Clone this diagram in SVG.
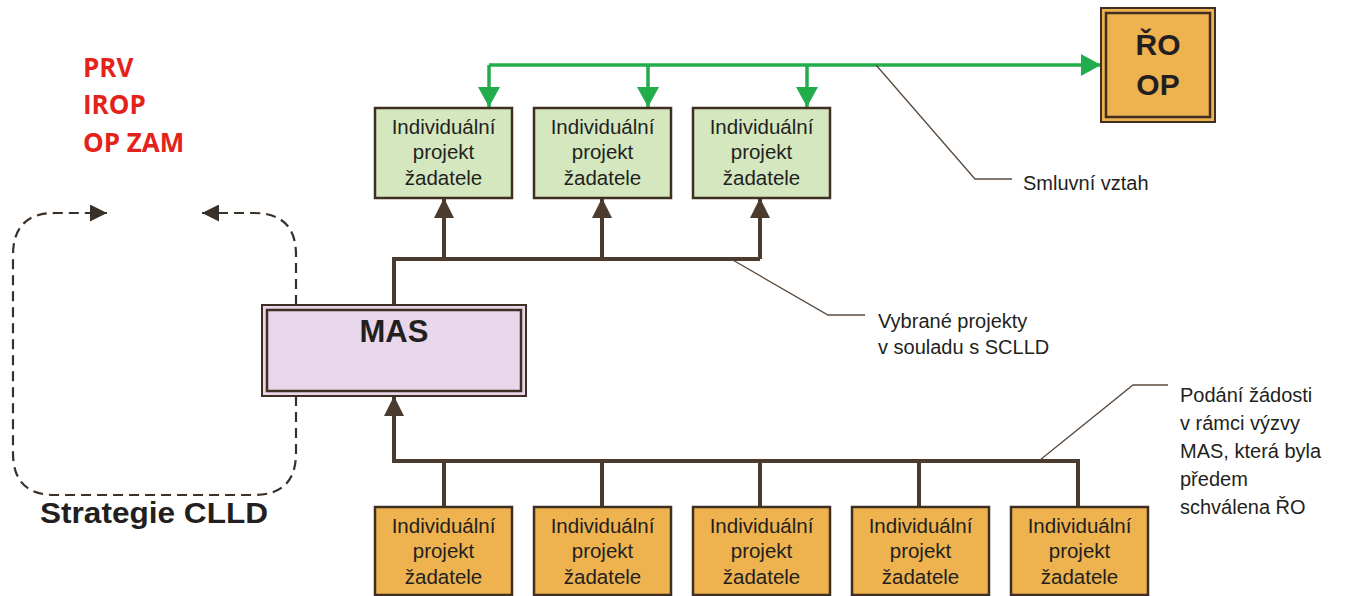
<svg xmlns="http://www.w3.org/2000/svg" width="1346" height="596" viewBox="0 0 1346 596">
<style>
.box text{font-family:"Liberation Sans",Arial,sans-serif;font-size:20.5px;fill:#231f20;text-anchor:middle}
.green rect{fill:#d4e7bf;stroke:#3f2e22;stroke-width:2.5}
.orange rect{fill:#eeb24f;stroke:#3f2e22;stroke-width:2.5}
.lbl{font-family:"Liberation Sans",Arial,sans-serif;font-size:20px;fill:#231f20}
.red{font-family:"Open Sans","Liberation Sans",sans-serif;font-weight:bold;font-size:26px;fill:#e3231b}
.brown{fill:none;stroke:#4b3a2e;stroke-width:4}
.gline{fill:none;stroke:#22ad4c;stroke-width:3.5}
.leader{fill:none;stroke:#5a4a3e;stroke-width:1.3}
.dash{fill:none;stroke:#3a3028;stroke-width:2.2;stroke-dasharray:10 6}
</style>
<defs>
<marker id="ab" viewBox="0 0 20 20" refX="20" refY="10" markerWidth="20" markerHeight="20" markerUnits="userSpaceOnUse" orient="auto"><path d="M0,0 L20,10 L0,20 Z" fill="#4b3a2e"/></marker>
<marker id="ag" viewBox="0 0 20 22" refX="20" refY="11" markerWidth="20" markerHeight="22" markerUnits="userSpaceOnUse" orient="auto"><path d="M0,0 L20,11 L0,22 Z" fill="#22ad4c"/></marker>
<marker id="ad" viewBox="0 0 17 17" refX="17" refY="8.5" markerWidth="17" markerHeight="17" markerUnits="userSpaceOnUse" orient="auto"><path d="M0,0 L17,8.5 L0,17 Z" fill="#3a3028"/></marker>
</defs>
<rect width="1346" height="596" fill="#ffffff"/>

<g id="connectors">
  <!-- green contract lines -->
  <path class="gline" d="M489,65 H1101" marker-end="url(#ag)"/>
  <path class="gline" d="M489,65 V107" marker-end="url(#ag)"/>
  <path class="gline" d="M648,65 V107" marker-end="url(#ag)"/>
  <path class="gline" d="M807,65 V107" marker-end="url(#ag)"/>
  <!-- MAS to selected projects -->
  <path class="brown" d="M394,305 V259 H760"/>
  <path class="brown" d="M444,259 V198" marker-end="url(#ab)"/>
  <path class="brown" d="M602,259 V198" marker-end="url(#ab)"/>
  <path class="brown" d="M760,259 V198" marker-end="url(#ab)"/>
  <!-- applications to MAS -->
  <path class="brown" d="M394,461 H1078 V507"/>
  <path class="brown" d="M444,461 V507"/>
  <path class="brown" d="M602,461 V507"/>
  <path class="brown" d="M760,461 V507"/>
  <path class="brown" d="M919,461 V507"/>
  <path class="brown" d="M394,463 V396" marker-end="url(#ab)"/>
  <!-- dashed strategy loop -->
  <path class="dash" d="M296,305 V255 Q296,213 254,213 H202" marker-end="url(#ad)"/>
  <path class="dash" d="M296,396 V453 Q296,495 254,495 H55 Q13,495 13,453 V255 Q13,213 55,213 H107" marker-end="url(#ad)"/>
  <!-- leader lines -->
  <path class="leader" d="M876,65 L975,179 H1012"/>
  <path class="leader" d="M731,259 L828,315 H865"/>
  <path class="leader" d="M1040,460 L1133,385 H1168"/>
</g>

<g id="labels">
  <text class="red" x="83" y="77">PRV</text>
  <text class="red" x="83" y="114">IROP</text>
  <text class="red" x="83" y="152">OP ZAM</text>
  <text x="40" y="523" font-family="Liberation Sans,Arial,sans-serif" font-weight="bold" font-size="29" fill="#231f20" textLength="228" lengthAdjust="spacingAndGlyphs">Strategie CLLD</text>
  <text class="lbl" x="1023" y="190">Smluvní vztah</text>
  <text class="lbl" x="878" y="328">Vybrané projekty</text>
  <text class="lbl" x="878" y="354">v souladu s SCLLD</text>
  <text class="lbl" x="1180" y="402">Podání žádosti</text>
  <text class="lbl" x="1180" y="430">v rámci výzvy</text>
  <text class="lbl" x="1180" y="458">MAS, která byla</text>
  <text class="lbl" x="1180" y="486">předem</text>
  <text class="lbl" x="1180" y="514">schválena ŘO</text>
</g>

<g id="ro-op">
  <rect x="1101" y="8" width="114" height="114" fill="#eeb24f" stroke="#3f2e22" stroke-width="2"/>
  <rect x="1106" y="13" width="104" height="104" fill="none" stroke="#3f2e22" stroke-width="2.5"/>
  <text x="1158" y="55" font-family="Liberation Sans,Arial,sans-serif" font-weight="bold" font-size="30" fill="#231f20" text-anchor="middle">ŘO</text>
  <text x="1158" y="95" font-family="Liberation Sans,Arial,sans-serif" font-weight="bold" font-size="30" fill="#231f20" text-anchor="middle">OP</text>
</g>

<g id="mas">
  <rect x="262" y="305" width="264" height="91" fill="#e8d6ea" stroke="#3f2e22" stroke-width="2"/>
  <rect x="267" y="310" width="254" height="81" fill="none" stroke="#3f2e22" stroke-width="2.5"/>
  <text x="394" y="342" font-family="Liberation Sans,Arial,sans-serif" font-weight="bold" font-size="31" fill="#231f20" text-anchor="middle">MAS</text>
</g>

<g id="selected-1" class="box green"><rect x="375" y="108" width="137" height="90"/><text x="443.5" y="134">Individuální</text><text x="443.5" y="159">projekt</text><text x="443.5" y="185">žadatele</text></g>
<g id="selected-2" class="box green"><rect x="534" y="108" width="137" height="90"/><text x="602.5" y="134">Individuální</text><text x="602.5" y="159">projekt</text><text x="602.5" y="185">žadatele</text></g>
<g id="selected-3" class="box green"><rect x="693" y="108" width="137" height="90"/><text x="761.5" y="134">Individuální</text><text x="761.5" y="159">projekt</text><text x="761.5" y="185">žadatele</text></g>

<g id="applicant-1" class="box orange"><rect x="375" y="507" width="137" height="88"/><text x="443.5" y="533">Individuální</text><text x="443.5" y="558">projekt</text><text x="443.5" y="584">žadatele</text></g>
<g id="applicant-2" class="box orange"><rect x="534" y="507" width="137" height="88"/><text x="602.5" y="533">Individuální</text><text x="602.5" y="558">projekt</text><text x="602.5" y="584">žadatele</text></g>
<g id="applicant-3" class="box orange"><rect x="693" y="507" width="137" height="88"/><text x="761.5" y="533">Individuální</text><text x="761.5" y="558">projekt</text><text x="761.5" y="584">žadatele</text></g>
<g id="applicant-4" class="box orange"><rect x="852" y="507" width="137" height="88"/><text x="920.5" y="533">Individuální</text><text x="920.5" y="558">projekt</text><text x="920.5" y="584">žadatele</text></g>
<g id="applicant-5" class="box orange"><rect x="1011" y="507" width="137" height="88"/><text x="1079.5" y="533">Individuální</text><text x="1079.5" y="558">projekt</text><text x="1079.5" y="584">žadatele</text></g>
</svg>
